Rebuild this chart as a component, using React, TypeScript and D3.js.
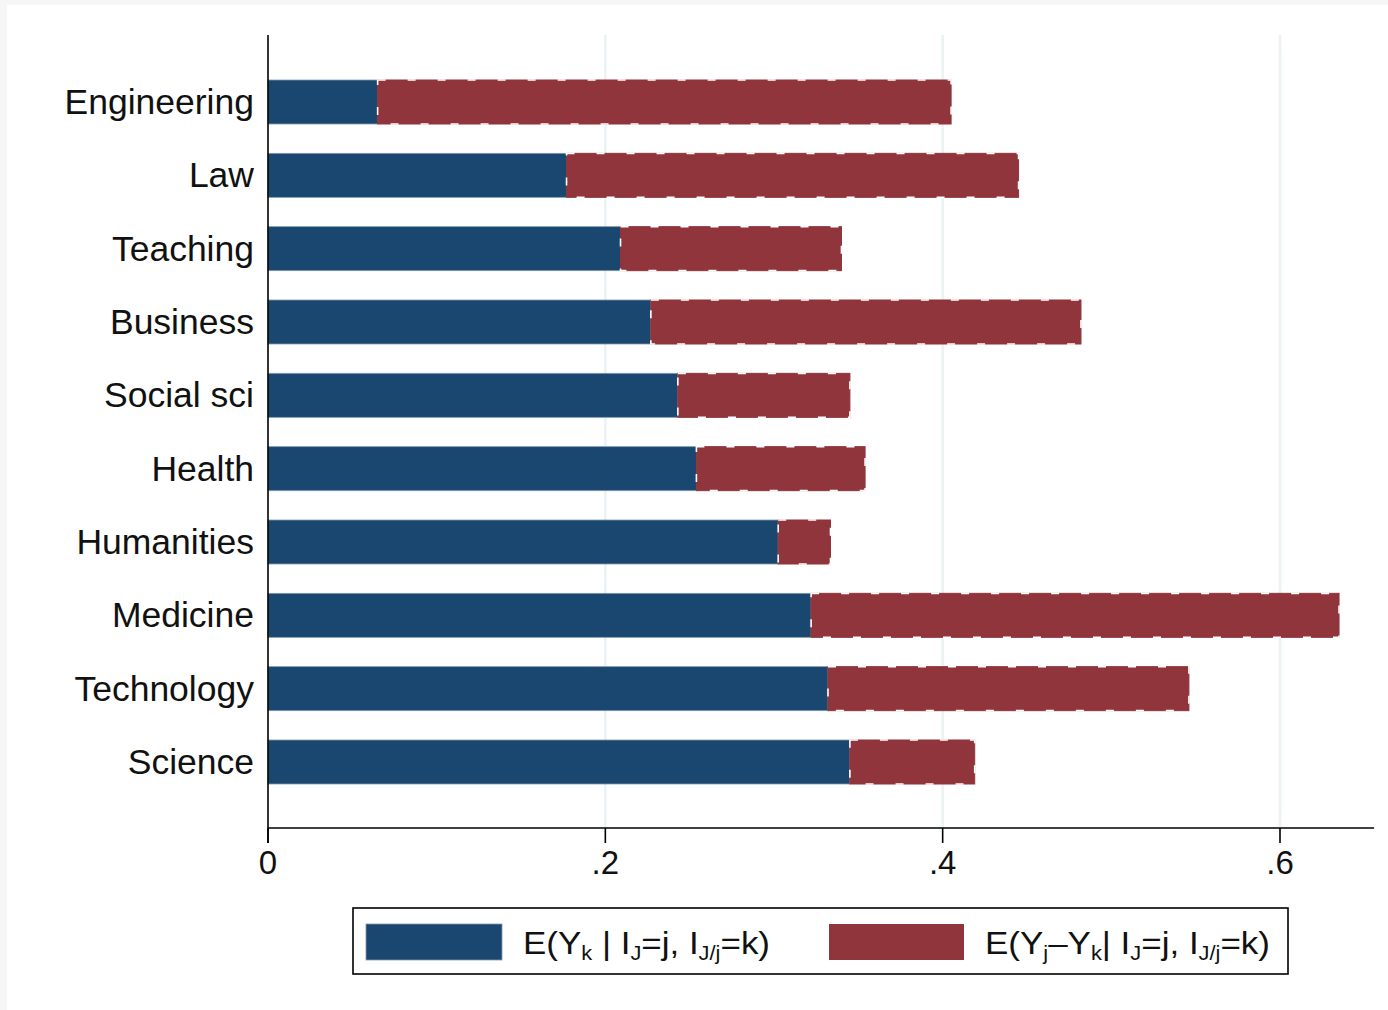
import React from "react";
import * as d3 from "d3";

const categories = ["Engineering", "Law", "Teaching", "Business", "Social sci", "Health", "Humanities", "Medicine", "Technology", "Science"];
const baseValues = [0.065, 0.177, 0.209, 0.227, 0.243, 0.254, 0.3025, 0.322, 0.332, 0.345];
const gapValues = [0.340, 0.268, 0.131, 0.255, 0.102, 0.100, 0.031, 0.313, 0.214, 0.074];
const xTicks = [0, 0.2, 0.4, 0.6];
const xTickLabels = ["0", ".2", ".4", ".6"];
// legend labels: [text, isSubscript]
const legendBlue: [string, boolean][] = [["E(Y", false], ["k", true], [" | I", false], ["J", true], ["=j, I", false], ["J/j", true], ["=k)", false]];
const legendRed: [string, boolean][] = [["E(Y", false], ["j", true], ["–Y", false], ["k", true], ["| I", false], ["J", true], ["=j, I", false], ["J/j", true], ["=k)", false]];

const W = 1388;
const H = 1010;
const BLUE = "#1a476f";
const RED = "#90353b";
const FONT = "'Liberation Sans', Arial, Helvetica, sans-serif";

function LegendText({ parts, x, y, len }: { parts: [string, boolean][]; x: number; y: number; len: number }) {
  let prevSub = false;
  return (
    <text x={x} y={y} fontSize={32} fill="#111" textLength={len} lengthAdjust="spacingAndGlyphs">
      {parts.map(([t, s], i) => {
        const dy = s && !prevSub ? 6 : !s && prevSub ? -6 : 0;
        prevSub = s;
        return (
          <tspan key={i} dy={dy} fontSize={s ? 20 : 32}>{t}</tspan>
        );
      })}
    </text>
  );
}

export default function App() {
  const x = d3.scaleLinear().domain([0, 0.6]).range([268, 1280]);
  const y = d3.scalePoint<string>().domain(categories).range([102, 762]);
  const step = y.step();
  const barH = step * 0.6;
  const axisY = 828;
  const axisTop = 35;
  const axisRight = x(0.6558);

  return (
    <svg width={W} height={H} style={{ position: "absolute", left: 0, top: 0, display: "block" }} fontFamily={FONT}>
      <rect x={0} y={0} width={W} height={H} fill="#f6f6f6" />
      <rect x={7} y={5} width={W - 7} height={H - 5} fill="#ffffff" />
      {xTicks.filter((t) => t > 0).map((t) => (
        <line key={"g" + t} x1={x(t)} x2={x(t)} y1={axisTop} y2={axisY} stroke="#eaf2f3" strokeWidth={2.5} />
      ))}
      {categories.map((c, i) => {
        const cy = y(c) as number;
        const top = cy - barH / 2;
        const x0 = x(0);
        const x1 = x(baseValues[i]);
        const x2 = x(baseValues[i] + gapValues[i]);
        return (
          <g key={c}>
            <rect x={x0} y={top} width={x1 - x0} height={barH} fill={BLUE} stroke="#7f98b0" strokeWidth={0.8} />
            <rect x={x1} y={top} width={x2 - x1} height={barH} fill={RED} stroke={RED} strokeWidth={1} />
            <rect x={x1} y={top} width={x2 - x1} height={barH} fill="none" stroke="#ffffff" strokeWidth={1.6} strokeDasharray="8 22" />
          </g>
        );
      })}
      <line x1={x(0)} x2={x(0)} y1={axisTop} y2={axisY + 15} stroke="#000" strokeWidth={1.6} />
      {categories.map((c) => (
        <text key={"l" + c} x={254} y={(y(c) as number) + 12} textAnchor="end" fontSize={35.5} fill="#111">{c}</text>
      ))}
      <line x1={x(0)} x2={axisRight} y1={axisY} y2={axisY} stroke="#000" strokeWidth={1.6} />
      {xTicks.map((t, i) => (
        <g key={"t" + t}>
          <line x1={x(t)} x2={x(t)} y1={axisY} y2={axisY + 15} stroke="#000" strokeWidth={1.6} />
          <text x={x(t)} y={874} textAnchor="middle" fontSize={33} fill="#111">{xTickLabels[i]}</text>
        </g>
      ))}
      <rect x={353} y={908} width={935} height={66} fill="#fff" stroke="#000" strokeWidth={1.6} />
      <rect x={366} y={924} width={136} height={36} fill={BLUE} stroke="#7f98b0" strokeWidth={0.8} />
      <rect x={829} y={924} width={135} height={36} fill={RED} />
      <LegendText parts={legendBlue} x={523} y={954} len={247} />
      <LegendText parts={legendRed} x={985} y={954} len={285} />
    </svg>
  );
}
